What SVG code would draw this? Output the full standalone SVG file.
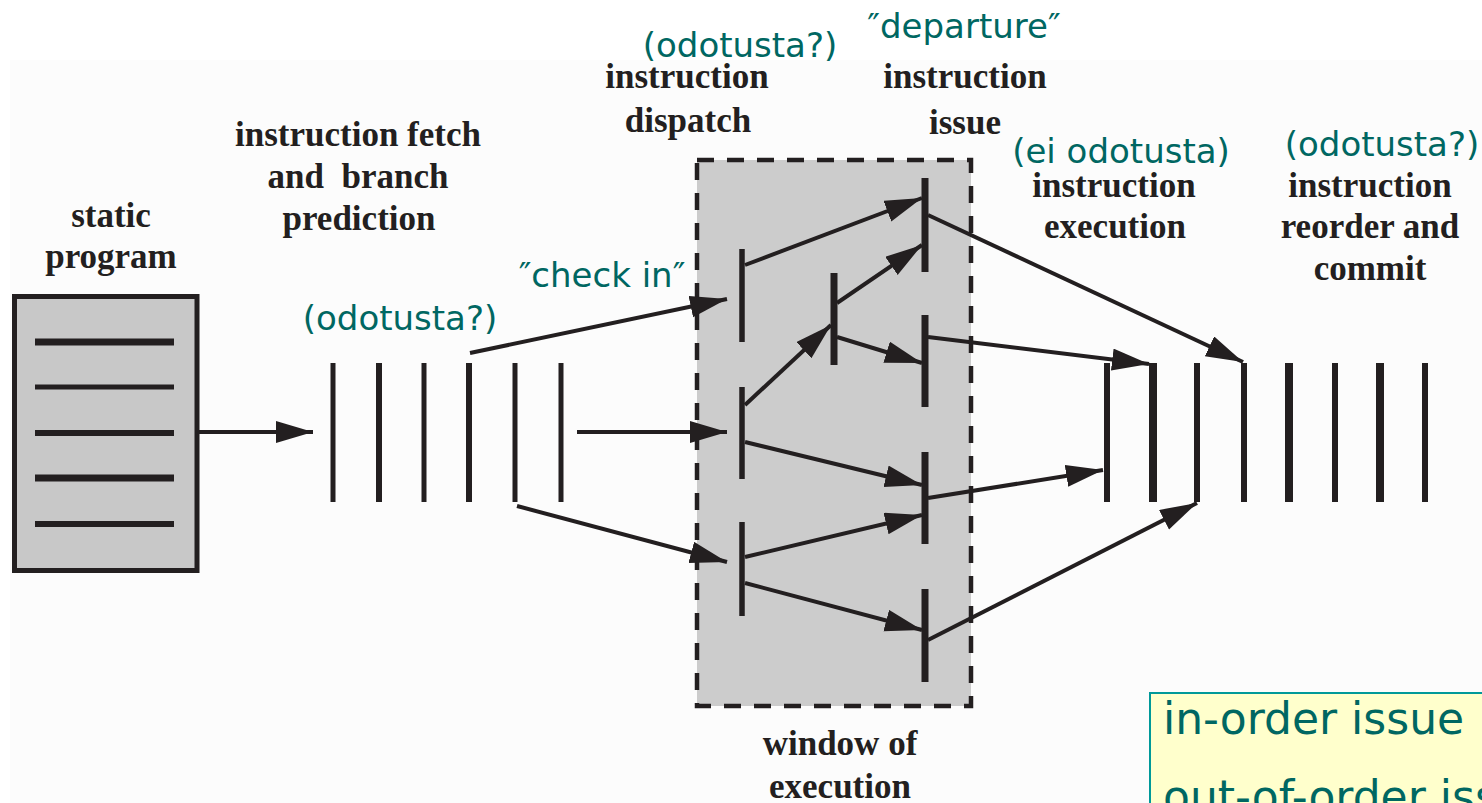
<svg xmlns="http://www.w3.org/2000/svg" width="1482" height="803" viewBox="0 0 1482 803">
<style>
.lbl{font-family:"Liberation Serif","Times New Roman",serif;font-weight:bold;font-size:35px;fill:#231f20;text-anchor:middle;white-space:pre}
.note{font-family:"DejaVu Sans",Verdana,sans-serif;font-size:34px;fill:#006762;text-anchor:middle}
.bar{stroke:#231f20;stroke-linecap:butt;fill:none}
.con{stroke:#231f20;stroke-width:4;fill:none;marker-end:url(#ah)}
</style>
<defs>
<marker id="ah" markerUnits="userSpaceOnUse" markerWidth="40" markerHeight="24" refX="37" refY="11" orient="auto">
<path d="M0,0 L37,11 L0,22 z" fill="#231f20"/>
</marker>
</defs>
<rect x="0" y="0" width="1482" height="803" fill="#ffffff"/>
<rect x="10" y="60" width="1472" height="743" fill="#fcfcfc"/>

<g id="static-program">
<rect x="14.5" y="296.5" width="182.5" height="274" fill="#c8c8c8" stroke="#231f20" stroke-width="5"/>
<line class="bar" x1="35" y1="342" x2="174" y2="342" stroke-width="7"/>
<line class="bar" x1="35" y1="387" x2="174" y2="387" stroke-width="5"/>
<line class="bar" x1="35" y1="433" x2="174" y2="433" stroke-width="6"/>
<line class="bar" x1="35" y1="478" x2="174" y2="478" stroke-width="7"/>
<line class="bar" x1="35" y1="524" x2="174" y2="524" stroke-width="6"/>
<text class="lbl" x="111" y="227">static</text>
<text class="lbl" x="111" y="268">program</text>
</g>

<g id="fetch">
<line class="bar" x1="333" y1="363" x2="333" y2="502" stroke-width="5"/>
<line class="bar" x1="379" y1="363" x2="379" y2="502" stroke-width="6"/>
<line class="bar" x1="424" y1="363" x2="424" y2="502" stroke-width="5"/>
<line class="bar" x1="469" y1="363" x2="469" y2="502" stroke-width="6"/>
<line class="bar" x1="515" y1="363" x2="515" y2="502" stroke-width="5"/>
<line class="bar" x1="561" y1="363" x2="561" y2="502" stroke-width="5"/>
<text class="lbl" x="358" y="146">instruction fetch</text>
<text class="lbl" x="358" y="188">and  branch</text>
<text class="lbl" x="359" y="230">prediction</text>
<text class="note" x="400" y="330">(odotusta?)</text>
<text class="note" x="602" y="287">″check in″</text>
</g>

<g id="window">
<rect x="697" y="160" width="274" height="546" fill="#cccccc" stroke="#231f20" stroke-width="4.5" stroke-dasharray="17 13"/>
<text class="lbl" x="840" y="755">window of</text>
<text class="lbl" x="840" y="798">execution</text>
</g>

<g id="dispatch">
<line class="bar" x1="742" y1="249" x2="742" y2="342" stroke-width="5.5"/>
<line class="bar" x1="742" y1="387" x2="742" y2="479" stroke-width="5.5"/>
<line class="bar" x1="742" y1="522" x2="742" y2="616" stroke-width="5.5"/>
<line class="bar" x1="834" y1="273" x2="834" y2="365" stroke-width="7"/>
<text class="lbl" x="687" y="88">instruction</text>
<text class="lbl" x="688" y="132">dispatch</text>
<text class="note" x="740" y="57">(odotusta?)</text>
</g>

<g id="issue">
<line class="bar" x1="925" y1="178" x2="925" y2="272" stroke-width="7"/>
<line class="bar" x1="925" y1="315" x2="925" y2="407" stroke-width="7"/>
<line class="bar" x1="925" y1="452" x2="925" y2="544" stroke-width="7"/>
<line class="bar" x1="925" y1="589" x2="925" y2="682" stroke-width="7"/>
<text class="lbl" x="965" y="88">instruction</text>
<text class="lbl" x="965" y="134">issue</text>
<text class="note" x="964" y="38">″departure″</text>
</g>

<g id="execution">
<line class="bar" x1="1107" y1="363" x2="1107" y2="502" stroke-width="6"/>
<line class="bar" x1="1153" y1="363" x2="1153" y2="502" stroke-width="8"/>
<line class="bar" x1="1197" y1="363" x2="1197" y2="502" stroke-width="6"/>
<text class="lbl" x="1114" y="197">instruction</text>
<text class="lbl" x="1115" y="238">execution</text>
<text class="note" x="1121" y="163">(ei odotusta)</text>
</g>

<g id="commit">
<line class="bar" x1="1244" y1="363" x2="1244" y2="502" stroke-width="6"/>
<line class="bar" x1="1289" y1="363" x2="1289" y2="502" stroke-width="8"/>
<line class="bar" x1="1335" y1="363" x2="1335" y2="502" stroke-width="6"/>
<line class="bar" x1="1380" y1="363" x2="1380" y2="502" stroke-width="8"/>
<line class="bar" x1="1425" y1="363" x2="1425" y2="502" stroke-width="6"/>
<text class="lbl" x="1370" y="197">instruction</text>
<text class="lbl" x="1370" y="238">reorder and</text>
<text class="lbl" x="1370" y="280">commit</text>
<text class="note" x="1382" y="156">(odotusta?)</text>
</g>

<g id="connectors">
<line class="con" x1="199" y1="432" x2="313" y2="432" stroke-width="5"/>
<line class="con" x1="470" y1="353" x2="727" y2="299"/>
<line class="con" x1="577" y1="432" x2="727" y2="432"/>
<line class="con" x1="517" y1="506" x2="727" y2="562"/>
<line class="con" x1="745" y1="265" x2="922" y2="198"/>
<line class="con" x1="745" y1="405" x2="831" y2="325"/>
<line class="con" x1="837" y1="303" x2="922" y2="245"/>
<line class="con" x1="837" y1="337" x2="922" y2="363"/>
<line class="con" x1="745" y1="442" x2="922" y2="485"/>
<line class="con" x1="745" y1="557" x2="922" y2="515"/>
<line class="con" x1="745" y1="583" x2="922" y2="630"/>
<line class="con" x1="928" y1="215" x2="1243" y2="362"/>
<line class="con" x1="928" y1="337" x2="1149" y2="364"/>
<line class="con" x1="928" y1="498" x2="1103" y2="470"/>
<line class="con" x1="928" y1="640" x2="1197" y2="503"/>
</g>

<g id="note-box">
<rect x="1150" y="693" width="340" height="120" fill="#ffffcc" stroke="#009999" stroke-width="2"/>
<text x="1163" y="734" style="font-family:'DejaVu Sans',Verdana,sans-serif;font-size:44px;fill:#006762">in-order issue</text>
<text x="1163" y="812" style="font-family:'DejaVu Sans',Verdana,sans-serif;font-size:44px;fill:#006762">out-of-order issue</text>
</g>
</svg>
